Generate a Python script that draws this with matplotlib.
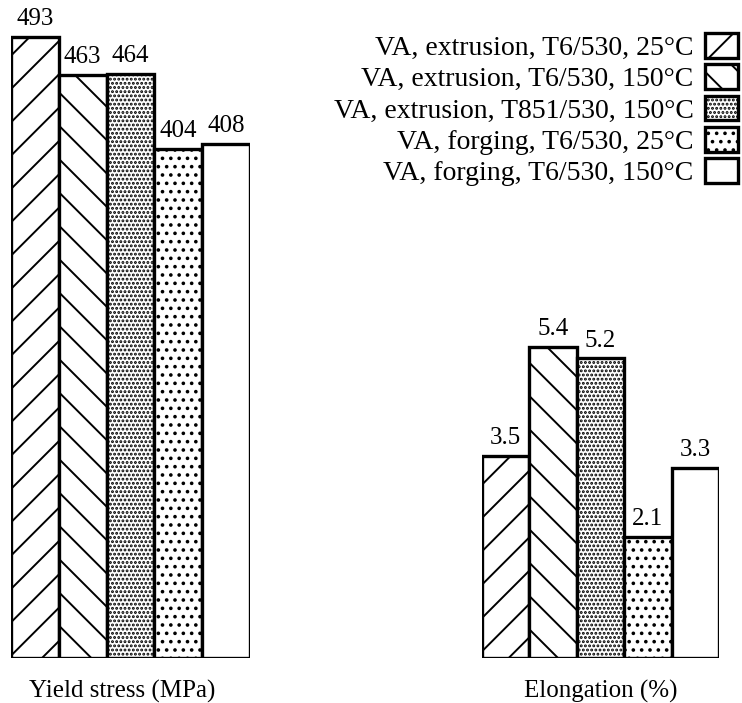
import matplotlib
matplotlib.use("Agg")
import matplotlib.pyplot as plt
from matplotlib.patches import Patch

plt.rcParams['font.family'] = ['Liberation Serif', 'DejaVu Serif']
plt.rcParams['hatch.linewidth'] = 1.4

conditions = [
    "VA, extrusion, T6/530, 25°C",
    "VA, extrusion, T6/530, 150°C",
    "VA, extrusion, T851/530, 150°C",
    "VA, forging, T6/530, 25°C",
    "VA, forging, T6/530, 150°C",
]
yield_stress = [493, 463, 464, 404, 408]
elongation = [3.5, 5.4, 5.2, 2.1, 3.3]
group_labels = ["Yield stress (MPa)", "Elongation (%)"]
hatches = ['/', '\\', '....', '..', '']

W, H = 742, 703
fig = plt.figure(figsize=(W / 100, H / 100), dpi=100)

bottom_px = 658
ax1 = fig.add_axes([11 / W, (H - bottom_px) / H, (250 - 11) / W, bottom_px / H])
ax2 = fig.add_axes([482 / W, (H - bottom_px) / H, (719 - 482) / W, bottom_px / H])

fs_val = 18
fs_lab = 18
fs_leg = 20
for ax, vals, top, lab, fmt, dx in [
    (ax1, yield_stress, bottom_px / 1.2596, group_labels[0], '{:d}', -6),
    (ax2, elongation, bottom_px / 57.6, group_labels[1], '{:.1f}', 0),
]:
    x = list(range(len(vals)))
    bars = ax.bar(x, vals, width=1.0, color='white', edgecolor='black',
                  linewidth=2.4)
    for b, h in zip(bars, hatches):
        b.set_hatch(h)
    ax.bar_label(bars, labels=[fmt.format(v) for v in vals], padding=5,
                 fontsize=fs_val)
    ax.set_xlim(-0.5, len(vals) - 0.5)
    ax.set_ylim(0, top)
    ax.axis('off')
    ax.annotate(lab, xy=(0.5, 0), xycoords='axes fraction',
                xytext=(dx, -16), textcoords='offset points',
                ha='center', va='top', fontsize=fs_lab)

handles = [Patch(facecolor='white', edgecolor='black', linewidth=2.4, hatch=h)
           for h in hatches]
fig.legend(handles, conditions, loc='upper right',
           bbox_to_anchor=(738 / W, 1 - 33 / H), frameon=False, fontsize=fs_leg,
           markerfirst=False, handlelength=1.2, handleheight=1.0,
           labelspacing=0.12, handletextpad=0.4, borderaxespad=0.0,
           borderpad=0.0)

fig.savefig("out.png", dpi=100)
